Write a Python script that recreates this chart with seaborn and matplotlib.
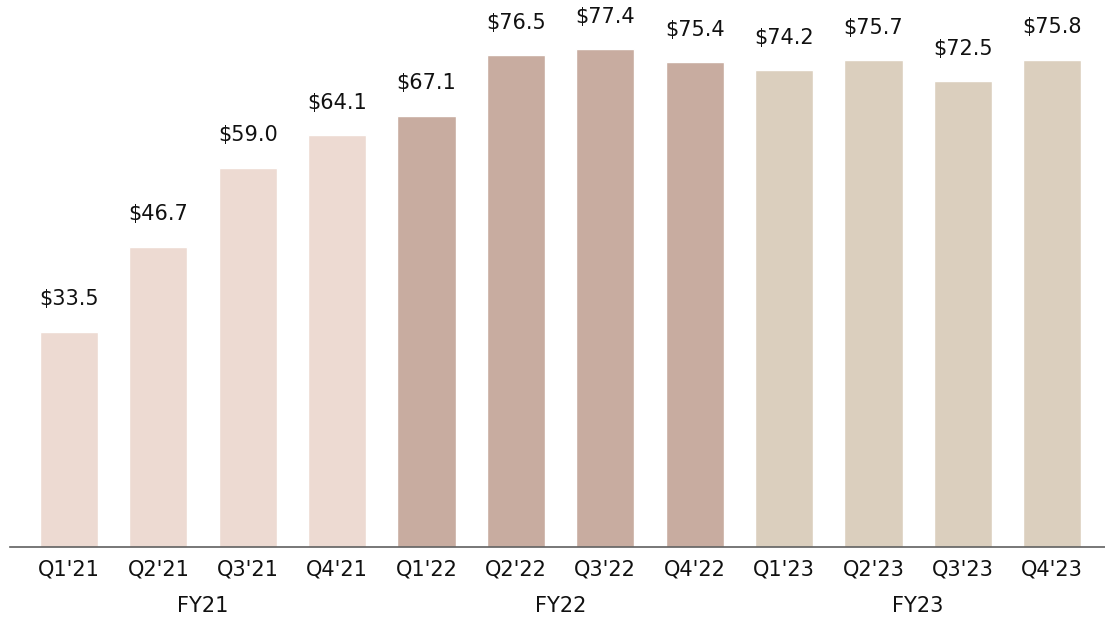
import matplotlib
matplotlib.use("Agg")
import matplotlib.pyplot as plt
import seaborn as sns
import pandas as pd

quarters = ["Q1'21", "Q2'21", "Q3'21", "Q4'21", "Q1'22", "Q2'22", "Q3'22", "Q4'22",
            "Q1'23", "Q2'23", "Q3'23", "Q4'23"]
values = [33.5, 46.7, 59.0, 64.1, 67.1, 76.5, 77.4, 75.4, 74.2, 75.7, 72.5, 75.8]
fiscal_years = ["FY21"] * 4 + ["FY22"] * 4 + ["FY23"] * 4
fy_labels = ["FY21", "FY22", "FY23"]
colors = {"FY21": "#EDDAD2", "FY22": "#C8ACA0", "FY23": "#DBCFBE"}

df = pd.DataFrame({"quarter": quarters, "value": values, "fy": fiscal_years})

sns.set_theme(style="white")
plt.rcParams["font.family"] = ["DejaVu Sans"]

fig = plt.figure(figsize=(11.05, 6.17), dpi=100)
ax = fig.add_axes([0.009, 0.1135, 0.991, 0.8865])

sns.barplot(data=df, x="quarter", y="value", hue="fy", palette=colors,
            dodge=False, width=0.65, legend=False, ax=ax, saturation=1)

for i, v in enumerate(values):
    ax.annotate(f"${v:.1f}", (i, v), xytext=(0, 16), textcoords="offset points",
                ha="center", va="bottom", fontsize=15, color="#111111")

ax.set_xlim(-0.66, 11.59)
ax.set_ylim(0, 85.07)
ax.set_xlabel("")
ax.set_ylabel("")
ax.set_yticks([])
for s in ["top", "left", "right"]:
    ax.spines[s].set_visible(False)
ax.spines["bottom"].set_color("#606060")
ax.spines["bottom"].set_linewidth(1.2)
ax.tick_params(axis="x", length=0, pad=9, labelsize=15, labelcolor="#111111")

trans = matplotlib.transforms.blended_transform_factory(ax.transData, fig.transFigure)
for k, lab in enumerate(fy_labels):
    ax.text(k * 4 + 1.5, 1 - 606 / 617, lab, transform=trans, ha="center", va="center",
            fontsize=15, color="#111111")

fig.savefig("out.png", dpi=100)
